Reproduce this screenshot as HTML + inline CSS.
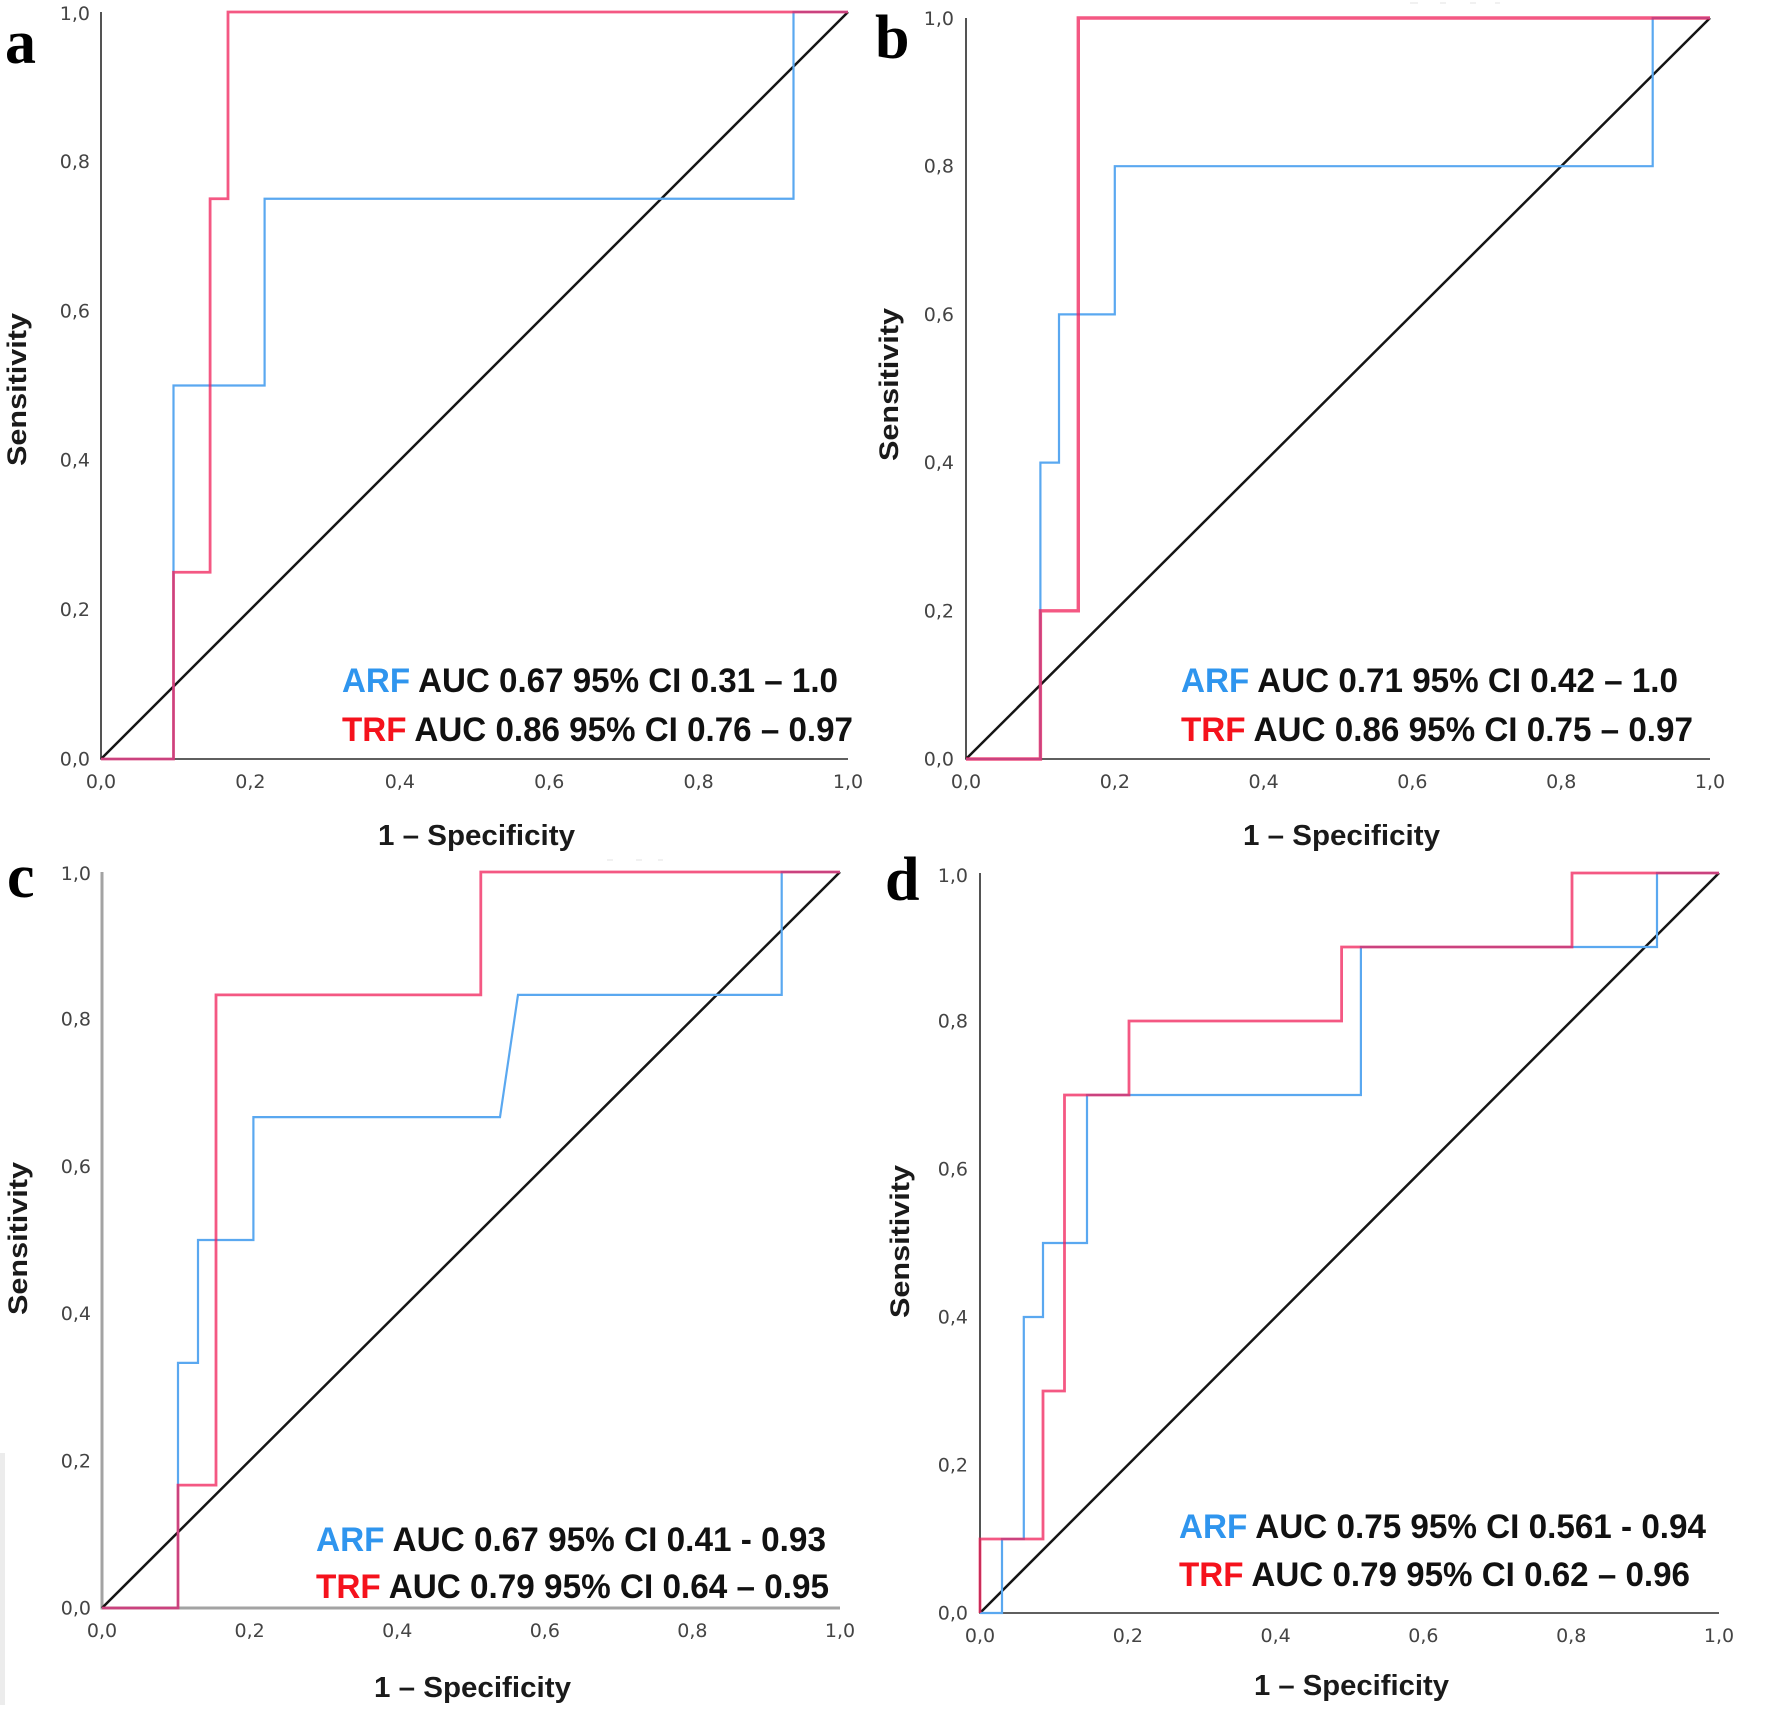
<!DOCTYPE html>
<html>
<head>
<meta charset="utf-8">
<style>
  html, body { margin:0; padding:0; background:#fff; }
  body { width:1772px; height:1711px; overflow:hidden; }
  svg { display:block; }
  .tick { font-family:"DejaVu Sans","Liberation Sans",sans-serif; font-size:19px; fill:#444; }
  .leg { font-family:"Liberation Sans",sans-serif; font-weight:bold; font-size:34px; fill:#111; }
  .xl { font-family:"Liberation Sans",sans-serif; font-weight:bold; font-size:29px; fill:#1a1a1a; }
  .yl { font-family:"Liberation Sans",sans-serif; font-weight:bold; font-size:27px; fill:#1a1a1a; }
  .pl { font-family:"Liberation Serif",serif; font-weight:bold; font-size:62px; fill:#000; }
  .blue { fill:none; stroke:#5aa8f0; stroke-width:2.2; }
  .red { fill:none; stroke:#f0205a; stroke-width:2.8; stroke-opacity:0.75; }
  .diag { fill:none; stroke:#151515; stroke-width:2.5; }
  .ax { fill:none; stroke:#2a2a2a; stroke-width:1.6; }
  .axg { fill:none; stroke:#a3a3a3; stroke-width:3; }
</style>
</head>
<body>
<svg width="1772" height="1711" viewBox="0 0 1772 1711" xmlns="http://www.w3.org/2000/svg">
  <rect x="0" y="0" width="1772" height="1711" fill="#fff"/>
  <rect x="0" y="1453" width="5" height="252" fill="#ececec"/>
  <g stroke="#ececec" stroke-width="1.5">
    <line x1="1410" y1="3" x2="1418" y2="3"/><line x1="1440" y1="3" x2="1446" y2="3"/><line x1="1470" y1="3" x2="1476" y2="3"/><line x1="1495" y1="3" x2="1500" y2="3"/>
    <line x1="607" y1="860" x2="613" y2="860"/><line x1="636" y1="860" x2="642" y2="860"/><line x1="658" y1="860" x2="663" y2="860"/>
  </g>

  <!-- ================= PANEL A ================= -->
  <text class="pl" x="5" y="63">a</text>
  <path class="ax" d="M101,12 L101,759 L848,759"/>
  <g class="tick" text-anchor="end">
    <text x="90" y="765.5">0,0</text>
    <text x="90" y="616">0,2</text>
    <text x="90" y="466.7">0,4</text>
    <text x="90" y="317.3">0,6</text>
    <text x="90" y="167.9">0,8</text>
    <text x="90" y="20">1,0</text>
  </g>
  <g class="tick" text-anchor="middle">
    <text x="101" y="788">0,0</text>
    <text x="250.4" y="788">0,2</text>
    <text x="399.8" y="788">0,4</text>
    <text x="549.2" y="788">0,6</text>
    <text x="698.6" y="788">0,8</text>
    <text x="848" y="788">1,0</text>
  </g>
  <path class="diag" d="M101,759 L848,12"/>
  <path class="blue" d="M101,759 L173.5,759 L173.5,385.5 L264.6,385.5 L264.6,198.75 L793.5,198.75 L793.5,12 L848,12"/>
  <path class="red" d="M101,759 L173.5,759 L173.5,572.25 L210.1,572.25 L210.1,198.75 L228,198.75 L228,12 L848,12"/>
  <text class="leg" x="342" y="692" textLength="496" lengthAdjust="spacingAndGlyphs"><tspan fill="#2f95ee">ARF</tspan> AUC 0.67 95% CI 0.31 – 1.0</text>
  <text class="leg" x="342" y="741" textLength="511" lengthAdjust="spacingAndGlyphs"><tspan fill="#f5121c">TRF</tspan> AUC 0.86 95% CI 0.76 – 0.97</text>
  <text class="xl" x="378" y="845" textLength="197" lengthAdjust="spacingAndGlyphs">1 – Specificity</text>
  <text class="yl" transform="translate(26,466) rotate(-90)" x="0" y="0" textLength="153" lengthAdjust="spacingAndGlyphs">Sensitivity</text>

  <!-- ================= PANEL B ================= -->
  <text class="pl" x="875" y="58">b</text>
  <path class="ax" d="M966,18 L966,759 L1710,759"/>
  <g class="tick" text-anchor="end">
    <text x="954" y="765.5">0,0</text>
    <text x="954" y="617.3">0,2</text>
    <text x="954" y="469.1">0,4</text>
    <text x="954" y="320.9">0,6</text>
    <text x="954" y="172.7">0,8</text>
    <text x="954" y="25">1,0</text>
  </g>
  <g class="tick" text-anchor="middle">
    <text x="966" y="788">0,0</text>
    <text x="1114.8" y="788">0,2</text>
    <text x="1263.6" y="788">0,4</text>
    <text x="1412.4" y="788">0,6</text>
    <text x="1561.2" y="788">0,8</text>
    <text x="1710" y="788">1,0</text>
  </g>
  <path class="diag" d="M966,759 L1710,18"/>
  <path class="blue" d="M966,759 L1040.4,759 L1040.4,462.6 L1059,462.6 L1059,314.4 L1114.8,314.4 L1114.8,166.2 L1652.7,166.2 L1652.7,18 L1710,18"/>
  <path class="red" style="stroke-width:3.4" d="M966,759 L1040.4,759 L1040.4,610.8 L1078.3,610.8 L1078.3,18 L1710,18"/>
  <text class="leg" x="1181" y="692" textLength="497" lengthAdjust="spacingAndGlyphs"><tspan fill="#2f95ee">ARF</tspan> AUC 0.71 95% CI 0.42 – 1.0</text>
  <text class="leg" x="1181" y="741" textLength="512" lengthAdjust="spacingAndGlyphs"><tspan fill="#f5121c">TRF</tspan> AUC 0.86 95% CI 0.75 – 0.97</text>
  <text class="xl" x="1243" y="845" textLength="197" lengthAdjust="spacingAndGlyphs">1 – Specificity</text>
  <text class="yl" transform="translate(898,461) rotate(-90)" x="0" y="0" textLength="153" lengthAdjust="spacingAndGlyphs">Sensitivity</text>

  <!-- ================= PANEL C ================= -->
  <text class="pl" x="7" y="897">c</text>
  <path class="axg" d="M102,872 L102,1608 L840,1608"/>
  <g class="tick" text-anchor="end">
    <text x="91" y="1614.5">0,0</text>
    <text x="91" y="1467.3">0,2</text>
    <text x="91" y="1320.1">0,4</text>
    <text x="91" y="1172.9">0,6</text>
    <text x="91" y="1025.7">0,8</text>
    <text x="91" y="880">1,0</text>
  </g>
  <g class="tick" text-anchor="middle">
    <text x="102" y="1637">0,0</text>
    <text x="249.6" y="1637">0,2</text>
    <text x="397.2" y="1637">0,4</text>
    <text x="544.8" y="1637">0,6</text>
    <text x="692.4" y="1637">0,8</text>
    <text x="840" y="1637">1,0</text>
  </g>
  <path class="diag" d="M102,1608 L840,872"/>
  <path class="blue" d="M102,1608 L178,1608 L178,1362.9 L198,1362.9 L198,1240 L253.4,1240 L253.4,1117.1 L500,1117.1 L518,994.9 L781.7,994.9 L781.7,872 L840,872"/>
  <path class="red" d="M102,1608 L178,1608 L178,1485.1 L216,1485.1 L216,994.9 L480.8,994.9 L480.8,872 L840,872"/>
  <text class="leg" x="316" y="1551" textLength="510" lengthAdjust="spacingAndGlyphs"><tspan fill="#2f95ee">ARF</tspan> AUC 0.67 95% CI 0.41 - 0.93</text>
  <text class="leg" x="316" y="1598" textLength="513" lengthAdjust="spacingAndGlyphs"><tspan fill="#f5121c">TRF</tspan> AUC 0.79 95% CI 0.64 – 0.95</text>
  <text class="xl" x="374" y="1697" textLength="197" lengthAdjust="spacingAndGlyphs">1 – Specificity</text>
  <text class="yl" transform="translate(27,1315) rotate(-90)" x="0" y="0" textLength="153" lengthAdjust="spacingAndGlyphs">Sensitivity</text>

  <!-- ================= PANEL D ================= -->
  <text class="pl" x="885" y="900">d</text>
  <path class="ax" d="M980,873 L980,1613 L1719,1613"/>
  <g class="tick" text-anchor="end">
    <text x="968" y="1619.5">0,0</text>
    <text x="968" y="1471.5">0,2</text>
    <text x="968" y="1323.5">0,4</text>
    <text x="968" y="1175.5">0,6</text>
    <text x="968" y="1027.5">0,8</text>
    <text x="968" y="882">1,0</text>
  </g>
  <g class="tick" text-anchor="middle">
    <text x="980" y="1642">0,0</text>
    <text x="1127.8" y="1642">0,2</text>
    <text x="1275.6" y="1642">0,4</text>
    <text x="1423.4" y="1642">0,6</text>
    <text x="1571.2" y="1642">0,8</text>
    <text x="1719" y="1642">1,0</text>
  </g>
  <path class="diag" d="M980,1613 L1719,873"/>
  <path class="blue" d="M980,1613 L1002,1613 L1002,1539 L1023.8,1539 L1023.8,1317 L1043,1317 L1043,1243 L1087,1243 L1087,1095 L1360.9,1095 L1360.9,947 L1657,947 L1657,873 L1719,873"/>
  <path class="red" d="M980,1613 L980,1539 L1043,1539 L1043,1391 L1064.5,1391 L1064.5,1095 L1129,1095 L1129,1021 L1341.6,1021 L1341.6,947 L1572,947 L1572,873 L1719,873"/>
  <text class="leg" x="1179" y="1538" textLength="527" lengthAdjust="spacingAndGlyphs"><tspan fill="#2f95ee">ARF</tspan> AUC 0.75 95% CI 0.561 - 0.94</text>
  <text class="leg" x="1179" y="1586" textLength="511" lengthAdjust="spacingAndGlyphs"><tspan fill="#f5121c">TRF</tspan> AUC 0.79 95% CI 0.62 – 0.96</text>
  <text class="xl" x="1254" y="1695" textLength="195" lengthAdjust="spacingAndGlyphs">1 – Specificity</text>
  <text class="yl" transform="translate(909,1318) rotate(-90)" x="0" y="0" textLength="153" lengthAdjust="spacingAndGlyphs">Sensitivity</text>
</svg>
</body>
</html>
